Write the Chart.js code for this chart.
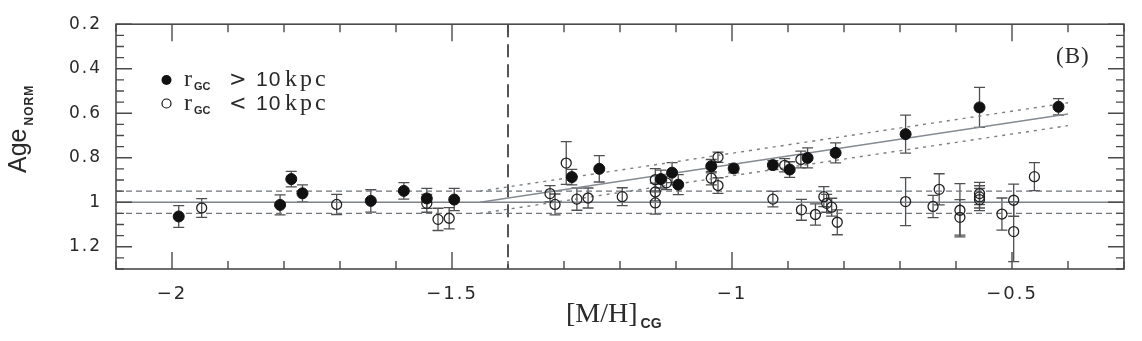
<!DOCTYPE html>
<html><head><meta charset="utf-8">
<script src="https://cdn.jsdelivr.net/npm/chart.js@4/dist/chart.umd.min.js"></script>
<style>html,body{margin:0;padding:0;background:#fff}#wrap{width:1142px;height:341px}</style>
</head><body><div id="wrap"><canvas id="c" width="1142" height="341"></canvas></div>
<script>
// r_GC > 10 kpc (filled)
const outerX = [-1.988, -1.807, -1.787, -1.767, -1.645, -1.586, -1.545, -1.496, -1.286, -1.237, -1.127, -1.107, -1.096, -1.037, -0.997, -0.927, -0.897, -0.865, -0.815, -0.690, -0.558, -0.417];
const outerY = [1.064, 1.012, 0.896, 0.960, 0.994, 0.949, 0.983, 0.988, 0.887, 0.850, 0.896, 0.867, 0.921, 0.838, 0.848, 0.833, 0.853, 0.801, 0.778, 0.694, 0.574, 0.571];
const outerErr = [0.049, 0.045, 0.035, 0.038, 0.05, 0.037, 0.045, 0.05, 0.035, 0.059, 0.04, 0.045, 0.045, 0.03, 0.02, 0.02, 0.035, 0.045, 0.045, 0.085, 0.09, 0.037];
// r_GC < 10 kpc (open)
const innerX = [-1.947, -1.706, -1.545, -1.525, -1.505, -1.325, -1.316, -1.296, -1.277, -1.257, -1.196, -1.137, -1.137, -1.137, -1.117, -1.025, -1.037, -1.025, -0.927, -0.906, -0.877, -0.876, -0.851, -0.836, -0.831, -0.822, -0.812, -0.690, -0.641, -0.630, -0.593, -0.593, -0.558, -0.558, -0.558, -0.518, -0.497, -0.497, -0.460];
const innerY = [1.026, 1.010, 1.005, 1.077, 1.072, 0.961, 1.010, 0.824, 0.986, 0.981, 0.975, 0.899, 0.954, 1.003, 0.913, 0.798, 0.892, 0.925, 0.986, 0.834, 0.808, 1.034, 1.055, 0.975, 1.005, 1.022, 1.090, 0.997, 1.019, 0.942, 1.036, 1.068, 0.961, 0.976, 0.988, 1.053, 0.991, 1.132, 0.885];
const innerErr = [0.042, 0.045, 0.04, 0.05, 0.048, 0.036, 0.047, 0.096, 0.05, 0.045, 0.04, 0.05, 0.04, 0.05, 0.03, 0.023, 0.03, 0.035, 0.035, 0.03, 0.038, 0.047, 0.048, 0.045, 0.04, 0.04, 0.056, 0.108, 0.05, 0.07, 0.12, 0.08, 0.05, 0.05, 0.05, 0.072, 0.072, 0.135, 0.063];
// reference lines
const refX = [-2.1, -0.3];
const refMid = [1.0, 1.0];
const refUp = [0.95, 0.95];
const refLo = [1.05, 1.05];
const fitX = [-1.45, -0.4];
const fitMid = [1.0, 0.603];
const fitUp = [0.95, 0.553];
const fitLo = [1.05, 0.656];
const vlineX = [-1.4, -1.4];
const vlineY = [0.2, 1.3];
// ticks
const xTicks = [-2, -1.5, -1, -0.5];
const yTicks = [0.2, 0.4, 0.6, 0.8, 1, 1.2];
const xMinorStep = 0.1, yMinorStep = 0.05;
const xRange = [-2.1, -0.3], yRange = [0.2, 1.3];

const pts = (xs, ys) => xs.map((v, i) => ({x: v, y: ys[i]}));
const fmt = v => String(+v.toFixed(2)).replace('-', '\u2212');

const errPlugin = {
  id: 'errbars',
  beforeDatasetsDraw(chart) {
    const {ctx, scales: {x, y}} = chart;
    ctx.save();
    ctx.strokeStyle = '#505050'; ctx.lineWidth = 1.3;
    const draw = (xs, ys, es) => {
      for (let i = 0; i < xs.length; i++) {
        const px = x.getPixelForValue(xs[i]);
        const p1 = y.getPixelForValue(ys[i] - es[i]);
        const p2 = y.getPixelForValue(ys[i] + es[i]);
        ctx.beginPath();
        ctx.moveTo(px, p1); ctx.lineTo(px, p2);
        ctx.moveTo(px - 5.5, p1); ctx.lineTo(px + 5.5, p1);
        ctx.moveTo(px - 5.5, p2); ctx.lineTo(px + 5.5, p2);
        ctx.stroke();
      }
    };
    draw(innerX, innerY, innerErr);
    draw(outerX, outerY, outerErr);
    ctx.restore();
  }
};

const framePlugin = {
  id: 'frame',
  beforeDraw(chart) { chart.ctx.letterSpacing = '2px'; },
  afterDraw(chart) {
    const {ctx, chartArea: a, scales: {x, y}} = chart;
    ctx.save();
    ctx.letterSpacing = '0px';
    ctx.strokeStyle = '#4a4a4a'; ctx.lineWidth = 1.6;
    ctx.strokeRect(a.left, a.top, a.right - a.left, a.bottom - a.top);
    ctx.lineWidth = 1.4;
    ctx.beginPath();
    const nx = Math.round((xRange[1] - xRange[0]) / xMinorStep);
    for (let k = 0; k <= nx; k++) {
      const v = xRange[0] + k * xMinorStep;
      const major = xTicks.some(t => Math.abs(t - v) < 1e-6);
      const L = major ? 17 : 8;
      const px = x.getPixelForValue(v);
      ctx.moveTo(px, a.bottom); ctx.lineTo(px, a.bottom - L);
      ctx.moveTo(px, a.top); ctx.lineTo(px, a.top + L);
    }
    const ny = Math.round((yRange[1] - yRange[0]) / yMinorStep);
    for (let k = 0; k <= ny; k++) {
      const v = yRange[0] + k * yMinorStep;
      const major = yTicks.some(t => Math.abs(t - v) < 1e-6);
      const L = major ? 16 : 8;
      const py = y.getPixelForValue(v);
      ctx.moveTo(a.left, py); ctx.lineTo(a.left + L, py);
      ctx.moveTo(a.right, py); ctx.lineTo(a.right - L, py);
    }
    ctx.stroke();

    ctx.fillStyle = '#2a2a2a';
    // y title
    ctx.save();
    ctx.translate(26, 173);
    ctx.rotate(-Math.PI / 2);
    ctx.textBaseline = 'alphabetic'; ctx.textAlign = 'left';
    ctx.font = '25px "Liberation Sans"';
    ctx.fillText('Age', 0, 0);
    const wA = ctx.measureText('Age').width;
    ctx.font = 'bold 12px "Liberation Sans"';
    ctx.letterSpacing = '1px';
    ctx.fillText('NORM', wA + 3, 7);
    ctx.restore();
    // x title
    ctx.textBaseline = 'alphabetic'; ctx.textAlign = 'left';
    ctx.font = '28px "Liberation Serif"';
    ctx.fillText('[M/H]', 566, 322);
    const wM = ctx.measureText('[M/H]').width;
    ctx.font = 'bold 14px "Liberation Sans"';
    ctx.fillText('CG', 566 + wM + 3, 328);
    // (B)
    ctx.font = '23px "Liberation Serif"';
    ctx.letterSpacing = '1px';
    ctx.fillText('(B)', 1056, 63);
    ctx.letterSpacing = '0px';
    // legend
    ctx.fillStyle = '#111';
    ctx.beginPath(); ctx.arc(166.5, 80, 5, 0, 2 * Math.PI); ctx.fill();
    ctx.strokeStyle = '#111'; ctx.lineWidth = 1.2;
    ctx.beginPath(); ctx.arc(166.5, 103.5, 4.5, 0, 2 * Math.PI); ctx.stroke();
    ctx.fillStyle = '#2a2a2a';
    const rows = [[86, '>'], [109.5, '<']];
    for (const [by, sym] of rows) {
      ctx.font = '24px "Liberation Serif"';
      ctx.fillText('r', 184, by);
      ctx.font = 'bold 11px "Liberation Sans"';
      ctx.fillText('GC', 194, by + 4);
      ctx.font = '21px "DejaVu Sans"';
      ctx.fillText(sym, 229, by);
      ctx.font = '21px "Liberation Sans"';
      ctx.letterSpacing = '1px';
      ctx.fillText('10', 256, by);
      ctx.letterSpacing = '3px';
      ctx.font = '24px "Liberation Serif"';
      ctx.fillText('kpc', 285, by);
      ctx.letterSpacing = '0px';
    }
    ctx.restore();
  }
};

const lineDs = (xs, ys, color, width, dash) => ({
  type: 'scatter', data: pts(xs, ys), showLine: true, pointRadius: 0,
  borderColor: color, borderWidth: width, borderDash: dash, fill: false
});

new Chart(document.getElementById('c'), {
  type: 'scatter',
  data: {
    datasets: [
      {label: 'rGC > 10 kpc', data: pts(outerX, outerY), pointRadius: 5.5, pointBackgroundColor: '#111', pointBorderColor: '#111', pointBorderWidth: 1},
      {label: 'rGC < 10 kpc', data: pts(innerX, innerY), pointRadius: 5, pointBackgroundColor: 'rgba(0,0,0,0)', pointBorderColor: '#222', pointBorderWidth: 1.3},
      lineDs(fitX, fitMid, '#858b93', 1.5, []),
      lineDs(fitX, fitUp, '#7a7f86', 1.4, [3, 5]),
      lineDs(fitX, fitLo, '#7a7f86', 1.4, [3, 5]),
      lineDs(refX, refMid, '#7d8289', 1.3, []),
      lineDs(refX, refUp, '#6f747b', 1.3, [6, 4]),
      lineDs(refX, refLo, '#6f747b', 1.3, [6, 4]),
      lineDs(vlineX, vlineY, '#2a2a2a', 1.6, [13, 7])
    ]
  },
  options: {
    responsive: false, animation: false, devicePixelRatio: 1,
    layout: {padding: {left: 0, right: 18, top: 16, bottom: 0}},
    plugins: {legend: {display: false}, tooltip: {enabled: false}},
    scales: {
      x: {
        type: 'linear', min: xRange[0], max: xRange[1],
        afterBuildTicks: s => { s.ticks = xTicks.map(v => ({value: v})); },
        afterFit: s => { s.height = 72; },
        grid: {display: false, drawTicks: false}, border: {display: false},
        ticks: {padding: 15, color: '#2a2a2a', font: {family: 'DejaVu Sans', size: 18}, callback: v => fmt(v), maxRotation: 0, autoSkip: false}
      },
      y: {
        type: 'linear', reverse: true, min: yRange[0], max: yRange[1],
        afterBuildTicks: s => { s.ticks = yTicks.map(v => ({value: v})); },
        afterFit: s => { s.width = 116; },
        grid: {display: false, drawTicks: false}, border: {display: false},
        ticks: {padding: 14, color: '#2a2a2a', font: {family: 'DejaVu Sans', size: 17}, callback: v => fmt(v), autoSkip: false}
      }
    }
  },
  plugins: [errPlugin, framePlugin]
});
</script>
</body></html>
